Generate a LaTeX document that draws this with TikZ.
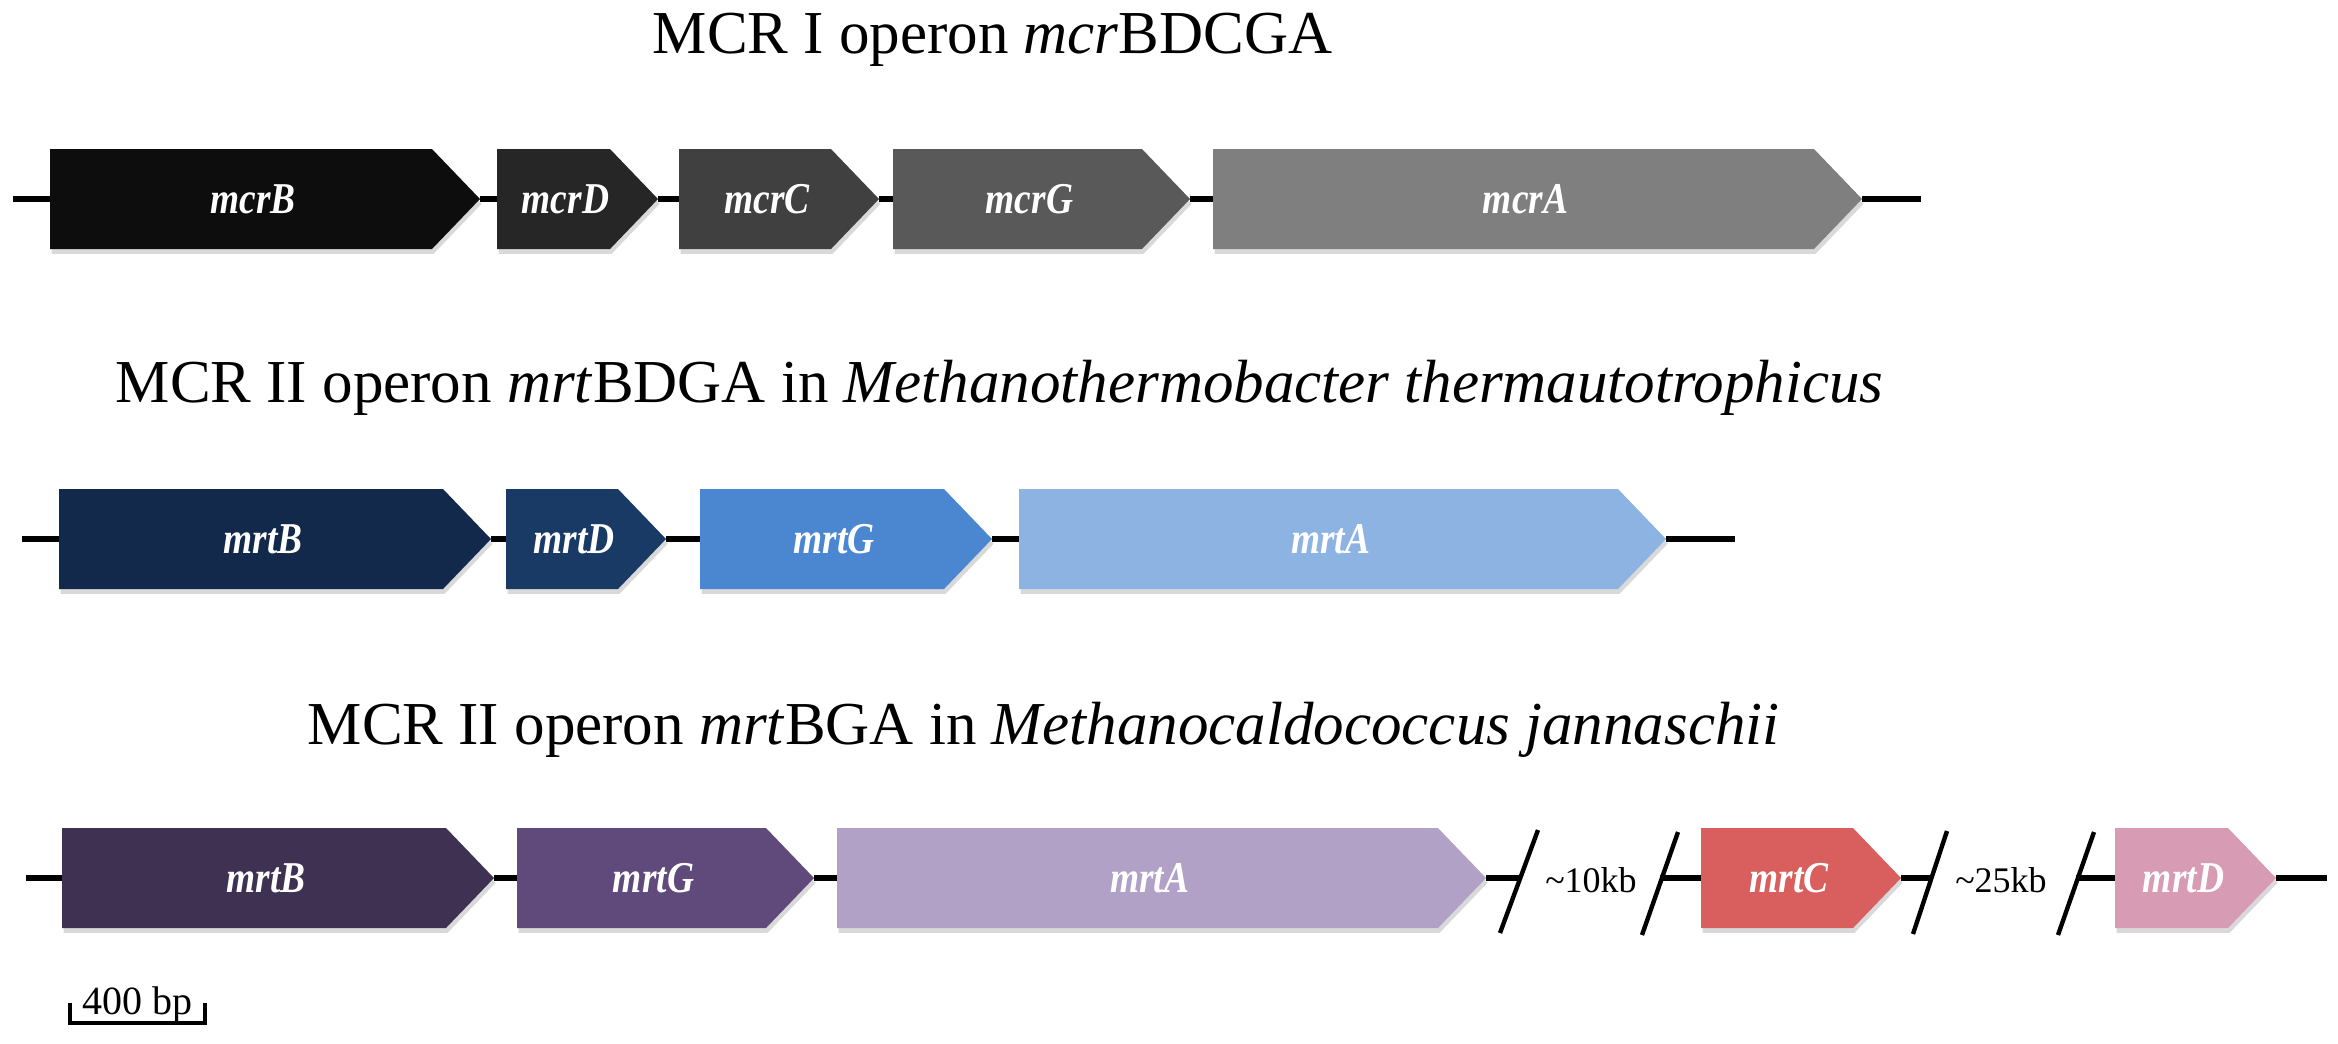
\documentclass[tikz,border=0pt]{standalone}
\usepackage{fontspec}
\usepackage{graphicx}
\setmainfont{Liberation Serif}
\usetikzlibrary{shadows}
\definecolor{gA1}{HTML}{0D0D0D}
\definecolor{gA2}{HTML}{262626}
\definecolor{gA3}{HTML}{404040}
\definecolor{gA4}{HTML}{595959}
\definecolor{gA5}{HTML}{7F7F7F}
\definecolor{bB1}{HTML}{13294B}
\definecolor{bB2}{HTML}{1A3A66}
\definecolor{bB3}{HTML}{4B87D1}
\definecolor{bB4}{HTML}{8DB3E2}
\definecolor{pC1}{HTML}{3F3151}
\definecolor{pC2}{HTML}{604A7B}
\definecolor{pC3}{HTML}{B2A1C7}
\definecolor{rC4}{HTML}{D85F5E}
\definecolor{rC5}{HTML}{D89BB4}
\tikzset{
  genesh/.style={drop shadow={opacity=0.3, shadow xshift=0.4pt, shadow yshift=-1.2pt}},
  genelabel/.style={text=white, inner sep=0pt, font=\fontsize{11}{13}\selectfont\bfseries\itshape},
  backbone/.style={line width=1.3pt, black},
  breakmark/.style={line width=1.1pt, black},
  titletext/.style={inner sep=0pt, anchor=base west, font=\fontsize{15.25}{18}\selectfont},
  smalltext/.style={inner sep=0pt, font=\fontsize{9}{11}\selectfont},
}
% #1 name, #2 start x, #3 tip x, #4 centre y, #5 colour, #6 label
\newcommand\genearrow[6]{%
  \fill[#5, genesh] (#2,#4-50) -- (#3-48,#4-50) -- (#3,#4) -- (#3-48,#4+50) -- (#2,#4+50) -- cycle;
  \coordinate (#1-w) at (#2,#4);
  \coordinate (#1-e) at (#3,#4);
  \node[genelabel] (#1) at ({(#2+#3-24)/2},#4) {\scalebox{0.85}[1]{#6}};
}
\begin{document}
\begin{tikzpicture}[x=0.25pt,y=-0.25pt]
\useasboundingbox (0,0) rectangle (2338,1043);
% titles
\node[titletext] (t1) at (652,53) {MCR I operon \textit{mcr}BDCGA};
\node[titletext] (t2) at (115,402) {MCR II operon \textit{mrt}BDGA in \textit{Methanothermobacter thermautotrophicus}};
\node[titletext] (t3) at (307,744) {MCR II operon \textit{mrt}BGA in \textit{Methanocaldococcus jannaschii}};
% row 1
\coordinate (r1s) at (13,199);
\coordinate (r1t) at (1921,199);
\genearrow{r1B}{50}{480}{199}{gA1}{mcrB}
\genearrow{r1D}{497}{658}{199}{gA2}{mcrD}
\genearrow{r1C}{679}{879}{199}{gA3}{mcrC}
\genearrow{r1G}{893}{1190}{199}{gA4}{mcrG}
\genearrow{r1A}{1213}{1862}{199}{gA5}{mcrA}
\draw[backbone] (r1s) -- (r1B-w) (r1B-e) -- (r1D-w) (r1D-e) -- (r1C-w)
  (r1C-e) -- (r1G-w) (r1G-e) -- (r1A-w) (r1A-e) -- (r1t);
% row 2
\coordinate (r2s) at (22,539);
\coordinate (r2t) at (1735,539);
\genearrow{r2B}{59}{491}{539}{bB1}{mrtB}
\genearrow{r2D}{506}{666}{539}{bB2}{mrtD}
\genearrow{r2G}{700}{992}{539}{bB3}{mrtG}
\genearrow{r2A}{1019}{1666}{539}{bB4}{mrtA}
\draw[backbone] (r2s) -- (r2B-w) (r2B-e) -- (r2D-w) (r2D-e) -- (r2G-w)
  (r2G-e) -- (r2A-w) (r2A-e) -- (r2t);
% row 3
\coordinate (r3s) at (26,878);
\coordinate (r3t) at (2327,878);
\genearrow{r3B}{62}{494}{878}{pC1}{mrtB}
\genearrow{r3G}{517}{814}{878}{pC2}{mrtG}
\genearrow{r3A}{837}{1486}{878}{pC3}{mrtA}
\genearrow{r3C}{1701}{1901}{878}{rC4}{mrtC}
\genearrow{r3D}{2115}{2276}{878}{rC5}{mrtD}
% break marks
\coordinate (k1) at (1519,878);
\coordinate (k2) at (1660,878);
\coordinate (k3) at (1930,878);
\coordinate (k4) at (2076,878);
\draw[breakmark] (1538,830) -- (1500,933);
\draw[breakmark] (1678,832) -- (1642,935);
\draw[breakmark] (1947,831) -- (1913,934);
\draw[breakmark] (2094,832) -- (2058,935);
\draw[backbone] (r3s) -- (r3B-w) (r3B-e) -- (r3G-w) (r3G-e) -- (r3A-w)
  (r3A-e) -- (k1) (k2) -- (r3C-w) (r3C-e) -- (k3) (k4) -- (r3D-w) (r3D-e) -- (r3t);
\node[smalltext] (gap1) at (1591,880) {\textasciitilde10kb};
\node[smalltext] (gap2) at (2001,880) {\textasciitilde25kb};
% scale bar
\coordinate (sbL) at (70,1023);
\coordinate (sbR) at (205,1023);
\draw[line width=1.1pt] ([yshift=5pt]sbL) -- (sbL) -- (sbR) -- ([yshift=5pt]sbR);
\node[smalltext, anchor=base, font=\fontsize{10}{12}\selectfont] (sbt) at (137,1014) {400 bp};
\end{tikzpicture}
\end{document}
